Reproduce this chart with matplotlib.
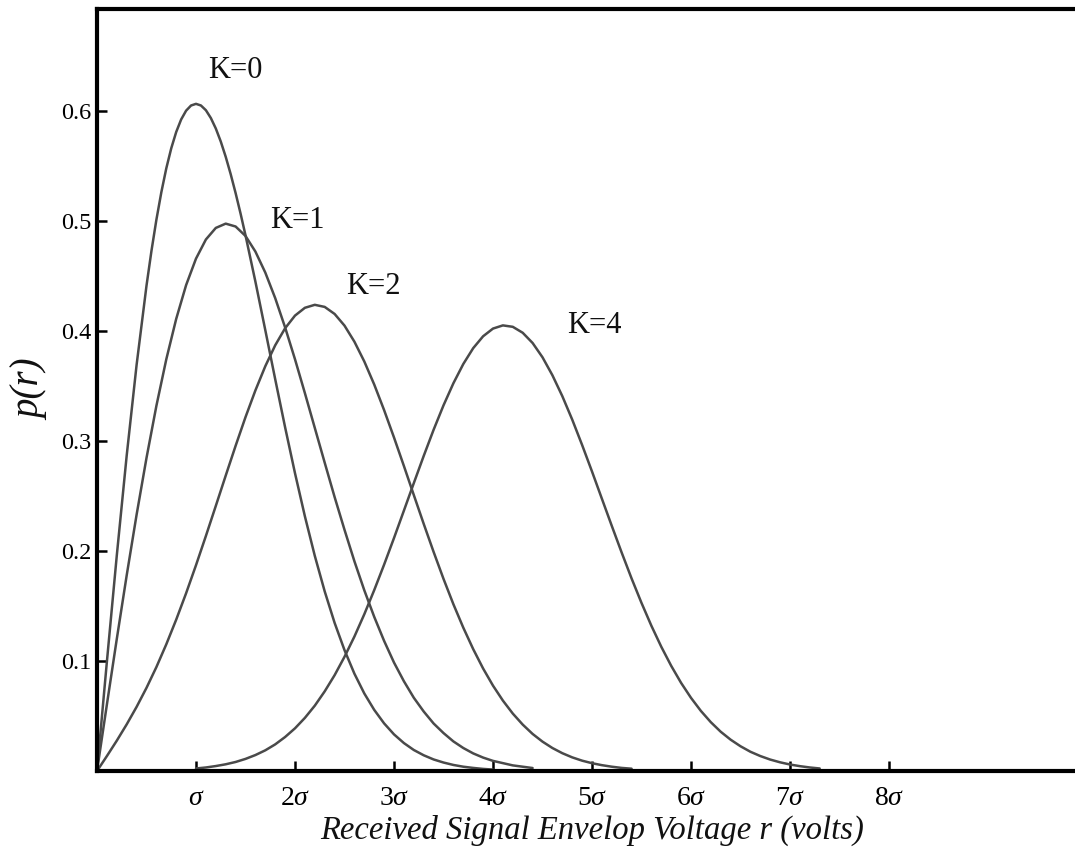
import matplotlib
matplotlib.use("Agg")
import matplotlib.pyplot as plt

plt.rcParams['font.family'] = ['Liberation Serif', 'DejaVu Serif']
plt.rcParams['mathtext.fontset'] = 'custom'
plt.rcParams['mathtext.rm'] = 'Liberation Serif'
plt.rcParams['mathtext.it'] = 'Liberation Serif:italic'

# ---- data (x in units of sigma) ----
r_k0 = [0.0, 0.1, 0.2, 0.3, 0.4, 0.5, 0.55, 0.6, 0.65, 0.7, 0.75, 0.8, 0.85, 0.9, 0.95,
        1.0, 1.05, 1.1, 1.15, 1.2, 1.25, 1.3, 1.35, 1.4, 1.45,
        1.5, 1.6, 1.7, 1.8, 1.9, 2.0, 2.1, 2.2, 2.3, 2.4, 2.5, 2.6, 2.7, 2.8, 2.9,
        3.0, 3.1, 3.2, 3.3, 3.4, 3.5, 3.6, 3.7, 3.8, 3.9, 4.0]
p_k0 = [0.0, 0.0995, 0.1960, 0.2868, 0.3692, 0.4412, 0.4728, 0.5012, 0.5262, 0.5479,
        0.5661, 0.5809, 0.5923, 0.6003, 0.6050,
        0.6065, 0.6050, 0.6007, 0.5936, 0.5841, 0.5723, 0.5584, 0.5427, 0.5254, 0.5068,
        0.4870, 0.4449, 0.4008, 0.3562, 0.3125,
        0.2707, 0.2315, 0.1956, 0.1633, 0.1347, 0.1099, 0.0885, 0.0705, 0.0556, 0.0433,
        0.0333, 0.0254, 0.0191, 0.0143, 0.0105, 0.0077, 0.0055, 0.0039, 0.0028, 0.0019,
        0.0013]

r_k1 = [0.0, 0.1, 0.2, 0.3, 0.4, 0.5, 0.6, 0.7, 0.8, 0.9, 1.0, 1.1, 1.2, 1.3, 1.4,
        1.5, 1.6, 1.7, 1.8, 1.9, 2.0, 2.1, 2.2, 2.3, 2.4, 2.5, 2.6, 2.7, 2.8, 2.9,
        3.0, 3.1, 3.2, 3.3, 3.4, 3.5, 3.6, 3.7, 3.8, 3.9, 4.0, 4.2, 4.4]
p_k1 = [0.0, 0.0605, 0.1201, 0.1779, 0.2330, 0.2846, 0.3320, 0.3743, 0.4110, 0.4417,
        0.4658, 0.4832, 0.4937, 0.4976, 0.4950, 0.4864, 0.4722, 0.4531, 0.4299, 0.4033,
        0.3743, 0.3435, 0.3119, 0.2803, 0.2491, 0.2193, 0.1907, 0.1643, 0.1402, 0.1183,
        0.0986, 0.0816, 0.0666, 0.0541, 0.0432, 0.0345, 0.0269, 0.0209, 0.0160, 0.0122,
        0.0092, 0.0051, 0.0027]

r_k2 = [0.0, 0.1, 0.2, 0.3, 0.4, 0.5, 0.6, 0.7, 0.8, 0.9, 1.0, 1.1, 1.2, 1.3, 1.4,
        1.5, 1.6, 1.7, 1.8, 1.9, 2.0, 2.1, 2.2, 2.3, 2.4, 2.5, 2.6, 2.7, 2.8, 2.9,
        3.0, 3.1, 3.2, 3.3, 3.4, 3.5, 3.6, 3.7, 3.8, 3.9, 4.0, 4.1, 4.2, 4.3, 4.4,
        4.5, 4.6, 4.7, 4.8, 4.9, 5.0, 5.1, 5.2, 5.3, 5.4]
p_k2 = [0.0, 0.0136, 0.0276, 0.0424, 0.0583, 0.0756, 0.0945, 0.1152, 0.1376, 0.1616,
        0.1871, 0.2137, 0.2410, 0.2685, 0.2956, 0.3217, 0.3460, 0.3680, 0.3870, 0.4025,
        0.4140, 0.4211, 0.4238, 0.4219, 0.4155, 0.4049, 0.3903, 0.3723, 0.3514, 0.3281,
        0.3032, 0.2773, 0.2509, 0.2247, 0.1992, 0.1747, 0.1516, 0.1303, 0.1108, 0.0932,
        0.0776, 0.0640, 0.0522, 0.0422, 0.0337, 0.0267, 0.0209, 0.0162, 0.0124, 0.0094,
        0.0071, 0.0053, 0.0039, 0.0028, 0.0021]

r_k4 = [1.0, 1.1, 1.2, 1.3, 1.4, 1.5, 1.6, 1.7, 1.8, 1.9, 2.0, 2.1, 2.2, 2.3, 2.4,
        2.5, 2.6, 2.7, 2.8, 2.9, 3.0, 3.1, 3.2, 3.3, 3.4, 3.5, 3.6, 3.7, 3.8, 3.9,
        4.0, 4.1, 4.2, 4.3, 4.4, 4.5, 4.6, 4.7, 4.8, 4.9, 5.0, 5.1, 5.2, 5.3, 5.4,
        5.5, 5.6, 5.7, 5.8, 5.9, 6.0, 6.1, 6.2, 6.3, 6.4, 6.5, 6.6, 6.7, 6.8, 6.9,
        7.0, 7.1, 7.2, 7.3]
p_k4 = [0.0023, 0.0032, 0.0045, 0.0061, 0.0082, 0.0110, 0.0145, 0.0188, 0.0242, 0.0309,
        0.0388, 0.0483, 0.0594, 0.0724, 0.0871, 0.1038, 0.1222, 0.1425, 0.1644, 0.1876,
        0.2118, 0.2367, 0.2617, 0.2864, 0.3102, 0.3324, 0.3525, 0.3700, 0.3844, 0.3952,
        0.4022, 0.4051, 0.4038, 0.3984, 0.3891, 0.3761, 0.3598, 0.3408, 0.3195, 0.2964,
        0.2723, 0.2475, 0.2228, 0.1985, 0.1750, 0.1528, 0.1320, 0.1129, 0.0956, 0.0801,
        0.0665, 0.0546, 0.0444, 0.0357, 0.0285, 0.0225, 0.0175, 0.0136, 0.0104, 0.0079,
        0.0059, 0.0044, 0.0032, 0.0023]

curve_labels = ["K=0", "K=1", "K=2", "K=4"]
label_pos = [(1.40, 0.637), (2.02, 0.500), (2.79, 0.440), (5.02, 0.405)]

x_ticks = [1, 2, 3, 4, 5, 6, 7, 8]
x_ticklabels = [r'$\sigma$', r'$2\sigma$', r'$3\sigma$', r'$4\sigma$',
                r'$5\sigma$', r'$6\sigma$', r'$7\sigma$', r'$8\sigma$']
y_ticks = [0.1, 0.2, 0.3, 0.4, 0.5, 0.6]
y_ticklabels = ["0.1", "0.2", "0.3", "0.4", "0.5", "0.6"]

# ---- figure ----
fig = plt.figure(figsize=(10.75, 8.51), dpi=100)
ax = fig.add_axes([97 / 1075, 1 - 771 / 851, 1 - 97 / 1075, (771 - 9) / 851])

line_color = '#4a4a4a'
for rr, pp in [(r_k0, p_k0), (r_k1, p_k1), (r_k2, p_k2), (r_k4, p_k4)]:
    ax.plot(rr, pp, color=line_color, lw=1.8, solid_capstyle='round',
            solid_joinstyle='round')

for lab, (lx, ly) in zip(curve_labels, label_pos):
    ax.text(lx, ly, lab, fontsize=22, ha='center', va='center', color='#111111')

ax.set_xlim(0, (1075 - 97) / 99.0)
ax.set_ylim(0, (771 - 9) / 1100.0)

ax.set_xticks(x_ticks)
ax.set_xticklabels(x_ticklabels, fontsize=20)
ax.set_yticks(y_ticks)
ax.set_yticklabels(y_ticklabels, fontsize=17.5)
ax.tick_params(axis='both', direction='in', length=7, width=1.8, color='black')
ax.tick_params(axis='x', pad=11)
ax.tick_params(axis='y', pad=4)

for s in ['left', 'bottom', 'top']:
    ax.spines[s].set_linewidth(3.0)
    ax.spines[s].set_color('black')
ax.spines['right'].set_visible(False)

fig.text(592 / 1075, 1 - 830 / 851, "Received Signal Envelop Voltage r (volts)",
         fontsize=23.5, style='italic', ha='center', va='center', color='#111111')
fig.text(31 / 1075, 1 - 390 / 851, "p(r)", fontsize=28, style='italic',
         rotation=90, ha='center', va='center', color='#111111')

fig.savefig("out.png", dpi=100)
